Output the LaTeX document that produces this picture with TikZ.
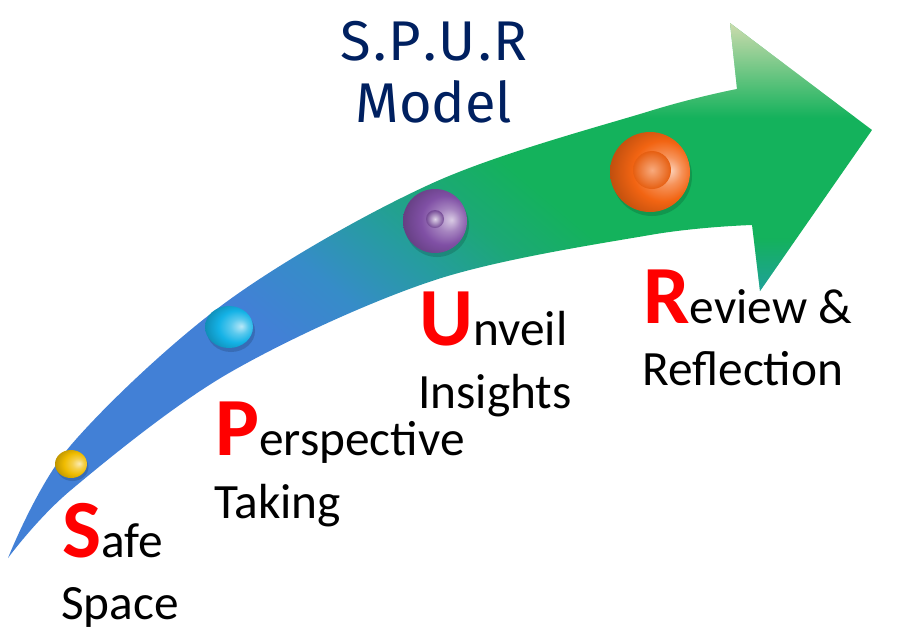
\documentclass[tikz,border=0pt]{standalone}
\usepackage{fontspec}
\setmainfont{Carlito}
\newfontfamily\titlefont{Fira Sans}
\usetikzlibrary{fadings}
\definecolor{cA}{RGB}{66,128,214}
\definecolor{cB}{RGB}{54,140,200}
\definecolor{cC}{RGB}{38,156,160}
\definecolor{cD}{RGB}{28,168,118}
\definecolor{cE}{RGB}{20,178,92}
\definecolor{navy}{RGB}{0,32,96}
\definecolor{pale}{RGB}{232,226,186}
\definecolor{tealb}{RGB}{40,150,195}
\definecolor{ballgold}{RGB}{240,188,0}
\definecolor{ballcyan}{RGB}{20,178,230}
\definecolor{ballpurple}{RGB}{128,80,165}
\definecolor{ballorange}{RGB}{242,100,18}
\pgfdeclarehorizontalshading{arrowshade}{100bp}{color(0bp)=(cA); color(42bp)=(cA); color(47bp)=(cB); color(52bp)=(cC); color(56.5bp)=(cD); color(61bp)=(cE); color(100bp)=(cE)}
\pgfdeclareverticalshading{topfadeshade}{100bp}{color(0bp)=(pgftransparent!100); color(40bp)=(pgftransparent!100); color(75bp)=(pgftransparent!10); color(100bp)=(pgftransparent!10)}
\pgfdeclarefading{topfade}{\pgfuseshading{topfadeshade}}
\pgfdeclareverticalshading{botfadeshade}{100bp}{color(0bp)=(pgftransparent!35); color(25bp)=(pgftransparent!35); color(55bp)=(pgftransparent!100); color(100bp)=(pgftransparent!100)}
\pgfdeclarefading{botfade}{\pgfuseshading{botfadeshade}}
\colorlet{ballc}{ballorange}
\pgfdeclareradialshading[ballc]{gloss}{\pgfpoint{13bp}{1bp}}{color(0bp)=(ballc!30!white); color(9bp)=(ballc!70!white); color(19bp)=(ballc); color(30bp)=(ballc!80!black); color(40bp)=(ballc!55!black); color(50bp)=(ballc!50!black)}
\newcommand\Init[1]{{\fontsize{62}{70}\selectfont\bfseries\color{red}#1}}
\tikzset{
  lab/.style={anchor=base west, inner sep=0pt, font=\fontsize{37}{42}\selectfont, text=black},
  ttl/.style={anchor=base, inner sep=0pt, font=\titlefont\fontsize{42}{48}\selectfont, text=navy},
  shadowc/.style={fill=black, opacity=0.15}
}
\begin{document}
\begin{tikzpicture}[x=0.75pt,y=-0.75pt]
\useasboundingbox (0,0) rectangle (914,640);
% arrow
\begin{scope}
\clip plot[smooth, tension=0.55] coordinates {(8,558) (71,445) (229,300) (435,182) (650,111) (737,89)}
  -- (730,23) -- (872,130) -- (760,291) -- (752,225)
  -- plot[smooth, tension=0.55] coordinates {(752,225) (650,235) (435,280) (229,373) (71,490) (8,558)} -- cycle;
\shade[shading=arrowshade, shading angle=50] (8,0) rectangle (872,640);
\fill[tealb, path fading=botfade] (740,200) rectangle (880,295);
\fill[pale, path fading=topfade] (560,20) rectangle (914,160);
\end{scope}
% balls
\fill[shadowc] (72.5,467) ellipse (16 and 14);
\colorlet{ballc}{ballgold}
\shade[shading=gloss] (71,464) ellipse (16 and 14);
\fill[shadowc] (231,331) ellipse (24 and 21);
\colorlet{ballc}{ballcyan}
\shade[shading=gloss] (229,327) ellipse (24 and 21);
\fill[shadowc] (437,225) circle (32);
\colorlet{ballc}{ballpurple}
\shade[shading=gloss] (435,221) circle (32);
\shade[inner color=ballpurple!25!white, outer color=ballpurple!90!black] (435,219) circle (9);
\fill[shadowc] (652,176) circle (40);
\colorlet{ballc}{ballorange}
\shade[shading=gloss] (650,172) circle (40);
\shade[inner color=ballorange!55!white, outer color=ballorange!95!black] (652,170) circle (19);
% title
\node[ttl] (t1) at (434,60) {S\kern1.6pt.\kern1.6pt P\kern1.6pt.\kern1.6pt U\kern1.6pt.\kern1.6pt R};
\node[ttl] (t2) at (434,122) {Model};
% labels
\node[lab] (s1) at (62,557) {\Init{S}afe};
\node[lab] (s2) at (61,619) {Space};
\node[lab] (p1) at (215,455) {\Init{P}erspective};
\node[lab] (p2) at (214,518) {Taking};
\node[lab] (u1) at (419,345) {\Init{U}nveil};
\node[lab] (u2) at (418,408) {Insights};
\node[lab] (r1) at (643,323) {\Init{R}eview \&};
\node[lab] (r2) at (642,385) {Reflection};
\end{tikzpicture}
\end{document}
